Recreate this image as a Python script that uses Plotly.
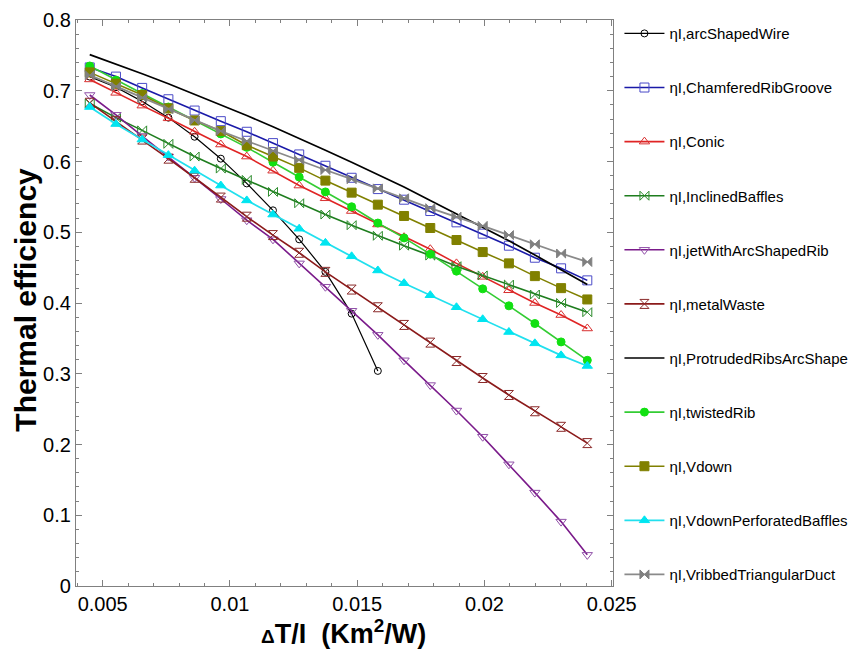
import plotly.graph_objects as go

x_vals = [0.00449, 0.00552, 0.00655, 0.00758, 0.00861, 0.00964, 0.01066, 0.01169,
          0.01272, 0.01375, 0.01478, 0.01581, 0.01684, 0.01787, 0.01890, 0.01993,
          0.02096, 0.02198, 0.02301, 0.02404]

arc_shaped_wire = [0.720, 0.705, 0.685, 0.662, 0.635, 0.604, 0.569, 0.531, 0.490, 0.444,
                   0.385, 0.304]
chamfered_rib_groove = [0.733, 0.720, 0.704, 0.688, 0.672, 0.657, 0.642, 0.626, 0.610, 0.594,
                        0.577, 0.561, 0.546, 0.530, 0.514, 0.498, 0.481, 0.464, 0.449, 0.432]
conic = [0.716, 0.697, 0.679, 0.661, 0.642, 0.624, 0.607, 0.587, 0.566, 0.548,
         0.530, 0.511, 0.493, 0.476, 0.456, 0.437, 0.418, 0.400, 0.383, 0.364]
inclined_baffles = [0.682, 0.662, 0.644, 0.625, 0.607, 0.590, 0.574, 0.557, 0.541, 0.525,
                    0.510, 0.495, 0.481, 0.467, 0.452, 0.439, 0.426, 0.412, 0.400, 0.387]
jet_arc_rib = [0.694, 0.666, 0.636, 0.607, 0.577, 0.547, 0.517, 0.490, 0.456, 0.423,
               0.389, 0.355, 0.319, 0.284, 0.248, 0.211, 0.172, 0.132, 0.091, 0.044]
metal_waste = [0.683, 0.657, 0.631, 0.604, 0.577, 0.549, 0.522, 0.496, 0.471, 0.444,
               0.419, 0.394, 0.369, 0.344, 0.318, 0.294, 0.270, 0.247, 0.225, 0.202]
protruded_ribs = [0.751, 0.738, 0.724, 0.710, 0.695, 0.680, 0.665, 0.649, 0.633, 0.616,
                  0.599, 0.582, 0.564, 0.545, 0.526, 0.507, 0.488, 0.468, 0.447, 0.426]
twisted_rib = [0.735, 0.715, 0.696, 0.677, 0.658, 0.639, 0.620, 0.599, 0.578, 0.557,
               0.536, 0.513, 0.492, 0.469, 0.445, 0.420, 0.396, 0.371, 0.345, 0.319]
vdown = [0.726, 0.710, 0.694, 0.675, 0.658, 0.643, 0.623, 0.607, 0.591, 0.573,
         0.556, 0.539, 0.523, 0.506, 0.489, 0.472, 0.456, 0.438, 0.421, 0.405]
vdown_perforated = [0.677, 0.653, 0.631, 0.609, 0.587, 0.566, 0.545, 0.525, 0.505, 0.485,
                    0.466, 0.446, 0.428, 0.411, 0.394, 0.377, 0.359, 0.343, 0.326, 0.311]
vribbed_triangular = [0.722, 0.706, 0.690, 0.674, 0.658, 0.643, 0.629, 0.615, 0.602, 0.588,
                      0.575, 0.562, 0.548, 0.534, 0.522, 0.509, 0.496, 0.483, 0.470, 0.458]

series = [
    ("ηI,arcShapedWire", arc_shaped_wire, "#000000", "circle-open", 7, 1.2, "#000000"),
    ("ηI,ChamferedRibGroove", chamfered_rib_groove, "#1a1aa8", "square-open", 9, 1.6, "#4a4ac8"),
    ("ηI,Conic", conic, "#e02424", "triangle-up-open", 9, 1.6, "#d83030"),
    ("ηI,InclinedBaffles", inclined_baffles, "#1e7d1e", "bowtie-open", 9, 1.6, "#2a8a2a"),
    ("ηI,jetWithArcShapedRib", jet_arc_rib, "#7a1a8a", "triangle-down-open", 9, 1.6, "#9050a8"),
    ("ηI,metalWaste", metal_waste, "#8b1a1a", "hourglass-open", 9, 1.6, "#8b2a2a"),
    ("ηI,ProtrudedRibsArcShape", protruded_ribs, "#000000", None, 0, 1.7, "#000000"),
    ("ηI,twistedRib", twisted_rib, "#33cc33", "circle", 8, 1.6, "#11e011"),
    ("ηI,Vdown", vdown, "#808000", "square", 9, 1.6, "#808000"),
    ("ηI,VdownPerforatedBaffles", vdown_perforated, "#22e0ee", "triangle-up", 9, 1.8, "#00e5f0"),
    ("ηI,VribbedTriangularDuct", vribbed_triangular, "#8a8a8a", "bowtie", 9, 1.8, "#808080"),
]

fig = go.Figure()
for i, (name, yv, lc, sym, ms, lw, mc) in enumerate(series):
    n = len(yv)
    if sym is None:
        fig.add_trace(go.Scatter(x=x_vals[:n], y=yv, name=name, mode="lines",
                                 line=dict(color=lc, width=lw), legendgroup=f"g{i}"))
    else:
        fig.add_trace(go.Scatter(x=x_vals[:n], y=yv, name=name, mode="lines+markers",
                                 line=dict(color=lc, width=lw),
                                 marker=dict(symbol=sym, size=ms, color=mc,
                                             line=dict(color=mc, width=1)),
                                 legendgroup=f"g{i}"))

axis_common = dict(
    showline=True, linecolor="#808080", linewidth=1.2, mirror="ticks",
    ticks="inside", ticklen=6, tickcolor="#808080", showgrid=False, zeroline=False,
    automargin=False,
    tickfont=dict(family="Arial, Liberation Sans", size=20, color="#000000"),
)

fig.update_layout(
    width=850, height=646,
    paper_bgcolor="white", plot_bgcolor="white",
    margin=dict(l=68, r=245, t=12, b=68, autoexpand=False),
    font=dict(family="Arial, Liberation Sans", color="#000000"),
    xaxis=dict(range=[0.00395, 0.02505], dtick=0.005, tick0=0.005,
               minor=dict(dtick=0.001, tick0=0.005, ticks="inside", ticklen=3, tickcolor="#808080"),
               **axis_common),
    yaxis=dict(range=[0, 0.8], dtick=0.1,
               minor=dict(dtick=0.02, ticks="inside", ticklen=3, tickcolor="#808080"),
               **axis_common),
    legend=dict(x=1.012, y=1.005, xanchor="left", yanchor="top",
                font=dict(family="Arial, Liberation Sans", size=15, color="#000000"),
                itemwidth=40, tracegroupgap=31.6, bgcolor="rgba(0,0,0,0)",
                maxheight=700),
    showlegend=True,
    annotations=[
        dict(text="<b><span style='font-size:19px'>Δ</span>T/I  (Km<sup>2</sup>/W)</b>",
             xref="paper", yref="paper", x=0.499, y=-0.081, xanchor="center", yanchor="middle",
             showarrow=False, font=dict(family="Arial, Liberation Sans", size=27, color="#000000")),
        dict(text="<b>Thermal efficiency</b>", textangle=-90,
             xref="paper", yref="paper", x=-0.094, y=0.505, xanchor="center", yanchor="middle",
             showarrow=False, font=dict(family="Arial, Liberation Sans", size=30, color="#000000")),
    ],
)

fig.write_html("out.html")
